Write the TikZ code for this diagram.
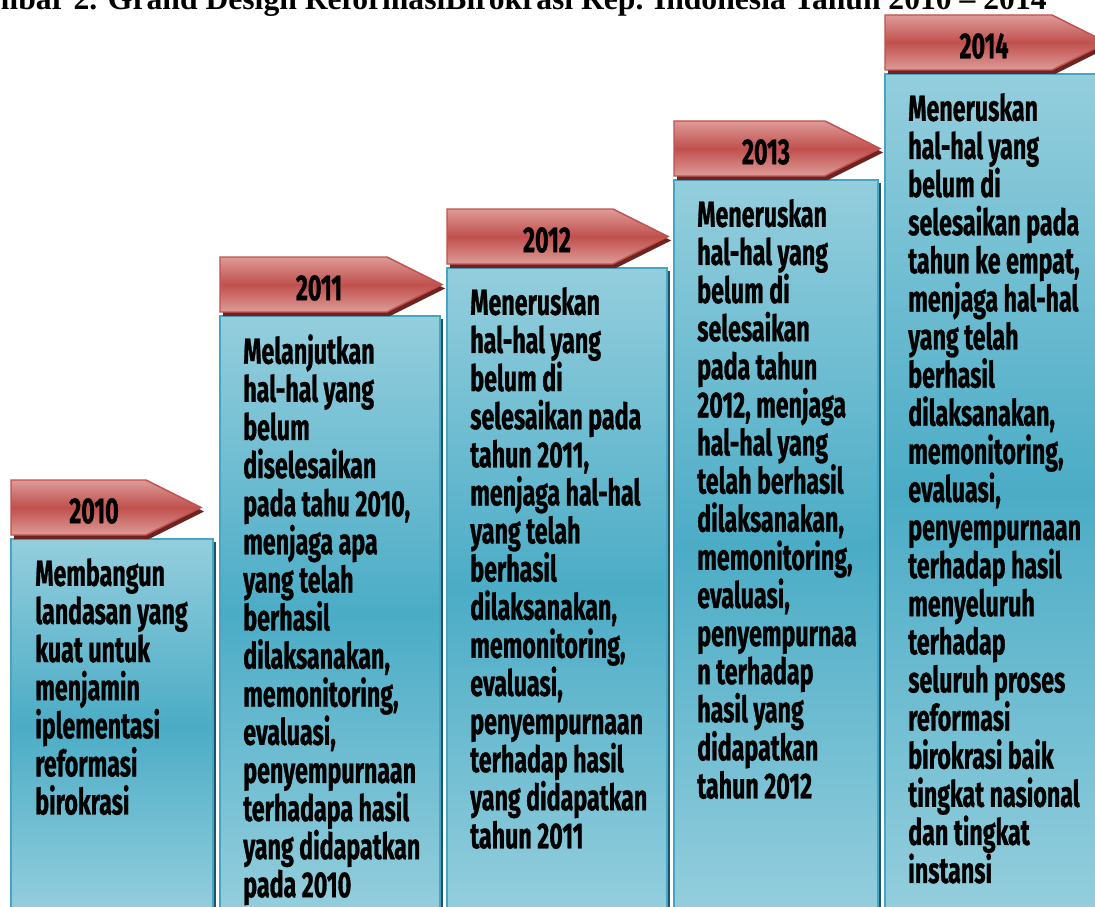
\documentclass[tikz,border=0pt]{standalone}
\usepackage{fontspec}
\usepackage{xcolor}
\usepackage{tikz}
\usetikzlibrary{calc}
\newfontfamily\stepfont{Fira Sans}[FakeStretch=0.64,FakeBold=0.8]
\newfontfamily\captionfont{Liberation Serif}
\definecolor{bannerred}{RGB}{192,80,77}
\definecolor{bannerpink}{RGB}{222,155,152}
\definecolor{bannershadow}{RGB}{110,35,33}
\definecolor{boxlight}{RGB}{148,206,221}
\definecolor{boxteal}{RGB}{75,172,198}
\definecolor{boxedge}{RGB}{70,165,195}
\definecolor{boxshadow}{RGB}{30,85,100}
\tikzset{
  banner/.style={draw=bannerred,line width=1pt,top color=bannerpink,
    bottom color=bannerpink,middle color=bannerred},
  bannershade/.style={fill=bannershadow},
  stepbox/.style={draw=boxedge,line width=1.5pt,top color=boxlight,
    bottom color=boxlight,middle color=boxteal},
  boxshade/.style={fill=boxshadow},
  yearlabel/.style={font=\stepfont\bfseries\fontsize{25.8}{27.1}\selectfont,inner sep=0pt},
  steptext/.style={font=\stepfont\bfseries\fontsize{25.8}{27.1}\selectfont,
    align=left,anchor=north west,inner sep=0pt}
}

\begin{document}
\begin{tikzpicture}[x=0.025cm,y=-0.025cm]
  \useasboundingbox (0,0) rectangle (1095,906);
  \clip (0,0) rectangle (1095,906);
  \node[font=\captionfont\bfseries\fontsize{22.5}{24}\selectfont,anchor=base east,inner sep=0pt]
    (caption) at (1047,10) {Gambar 2. Grand Design ReformasiBirokrasi Rep. Indonesia Tahun 2010 – 2014};
  \foreach \x/\y/\bw/\w in {11/480/190/202,220/257/222/220,447/209/221/220,674/121/206/204,885/15/222/215}{
    \fill[boxshade] (\x+3,\y+62) rectangle (\x+\w+3,912);
    \shade[stepbox] (\x,\y+59) rectangle (\x+\w,912);
    \fill[bannershade] (\x+3,\y+4) -- (\x+\bw-52,\y+4) -- (\x+\bw+3,\y+31.5)
      -- (\x+\bw-52,\y+59) -- (\x+3,\y+59) -- cycle;
    \shade[banner] (\x,\y) -- (\x+\bw-55,\y) -- (\x+\bw,\y+27.5)
      -- (\x+\bw-55,\y+55) -- (\x,\y+55) -- cycle;
  }
  \node[yearlabel] (y2010) at (94,511) {2010};
  \node[yearlabel] (y2011) at (319,288) {2011};
  \node[yearlabel] (y2012) at (547,240) {2012};
  \node[yearlabel] (y2013) at (766,152) {2013};
  \node[yearlabel] (y2014) at (984,46) {2014};
  \node[steptext] (t2010) at (35,558) {Membangun\\landasan yang\\kuat untuk\\menjamin\\iplementasi\\reformasi\\birokrasi};
  \node[steptext] (t2011) at (243,334) {Melanjutkan\\hal-hal yang\\belum\\diselesaikan\\pada tahu 2010,\\menjaga apa\\yang telah\\berhasil\\dilaksanakan,\\memonitoring,\\evaluasi,\\penyempurnaan\\terhadapa hasil\\yang didapatkan\\pada 2010};
  \node[steptext] (t2012) at (470,287) {Meneruskan\\hal-hal yang\\belum di\\selesaikan pada\\tahun 2011,\\menjaga hal-hal\\yang telah\\berhasil\\dilaksanakan,\\memonitoring,\\evaluasi,\\penyempurnaan\\terhadap hasil\\yang didapatkan\\tahun 2011};
  \node[steptext] (t2013) at (697,199) {Meneruskan\\hal-hal yang\\belum di\\selesaikan\\pada tahun\\2012, menjaga\\hal-hal yang\\telah berhasil\\dilaksanakan,\\memonitoring,\\evaluasi,\\penyempurnaa\\n terhadap\\hasil yang\\didapatkan\\tahun 2012};
  \node[steptext] (t2014) at (908,93) {Meneruskan\\hal-hal yang\\belum di\\selesaikan pada\\tahun ke empat,\\menjaga hal-hal\\yang telah\\berhasil\\dilaksanakan,\\memonitoring,\\evaluasi,\\penyempurnaan\\terhadap hasil\\menyeluruh\\terhadap\\seluruh proses\\reformasi\\birokrasi baik\\tingkat nasional\\dan tingkat\\instansi};
\end{tikzpicture}
\end{document}
